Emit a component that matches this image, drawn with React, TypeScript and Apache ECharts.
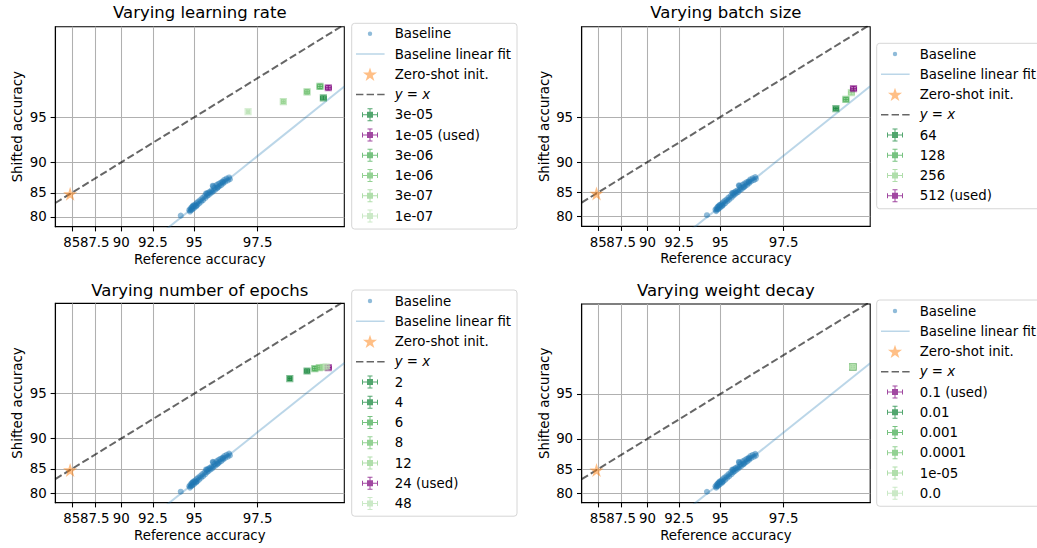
import React, { useEffect, useRef } from "react";
import * as echarts from "echarts";

const FONT = '"DejaVu Sans", "Noto Sans", sans-serif';

// ---------- data ----------
const xTicks = [85, 87.5, 90, 92.5, 95, 97.5];
const xTickLabels = ["85", "87.5", "90", "92.5", "95", "97.5"];
const yTicks = [80, 85, 90, 95];
const yTickLabels = ["80", "85", "90", "95"];
const xRange = [83.0, 99.16];
const yRange = [77.74, 99.12];

const titles = [
  "Varying learning rate",
  "Varying batch size",
  "Varying number of epochs",
  "Varying weight decay",
];

const baselineRef = [
  94.27, 94.74, 94.78, 94.8, 94.83, 94.86, 94.88, 94.9, 94.93, 94.96, 95.0, 95.04, 95.08,
  95.12, 95.16, 95.2, 95.25, 95.3, 95.35, 95.4, 95.44, 95.5, 95.55, 95.6, 95.63,
  95.67, 95.7, 95.74, 95.78, 95.82, 95.86, 95.9, 95.92, 95.95, 96.0, 96.04, 96.08,
  96.12, 96.16, 96.2, 96.24, 96.28, 96.32, 96.36, 96.4, 96.45, 96.5, 96.55, 96.58,
  94.95, 95.1, 95.58, 95.88, 96.1, 96.3,
];
const baselineShift = [
  80.3, 81.5, 81.2, 81.8, 81.5, 82.1, 81.6, 82.2, 81.8, 82.4, 82.0, 82.7, 82.4,
  83.0, 82.6, 83.3, 82.9, 83.6, 83.3, 84.0, 83.6, 84.3, 84.0, 84.8, 84.4,
  85.0, 84.6, 85.2, 84.9, 85.4, 85.1, 86.2, 85.4, 85.9, 85.6, 86.4, 85.9,
  86.6, 86.2, 86.8, 86.4, 87.0, 86.7, 87.3, 87.0, 87.5, 87.2, 87.7, 87.4,
  82.5, 82.3, 84.9, 86.3, 86.0, 86.9,
];
const zeroShotRef = 84.8;
const zeroShotShift = 84.8;
// linear fit in probit space: probit(shift) = slope * probit(ref) + intercept
const fitSlope = 1.299;
const fitIntercept = -1.213;

const lrNames = ["3e-05", "1e-05 (used)", "3e-06", "1e-06", "3e-07", "1e-07"];
const lrRef = [98.89, 98.96, 98.84, 98.63, 98.16, 97.21];
const lrShift = [96.41, 97.01, 97.08, 96.78, 96.17, 95.45];

const bsNames = ["64", "128", "256", "512 (used)"];
const bsRef = [98.68, 98.84, 98.92, 98.95];
const bsShift = [95.66, 96.3, 96.72, 96.95];

const epNames = ["2", "4", "6", "8", "12", "24 (used)", "48"];
const epRef = [98.3, 98.63, 98.76, 98.83, 98.89, 98.96, 98.93];
const epShift = [96.13, 96.62, 96.76, 96.82, 96.84, 96.82, 96.86];

const wdNames = ["0.1 (used)", "0.01", "0.001", "0.0001", "1e-05", "0.0"];
const wdRef = [98.94, 98.94, 98.94, 98.94, 98.94, 98.94];
const wdShift = [96.89, 96.89, 96.89, 96.89, 96.89, 96.89];

const xErr = 0.04;
const yErr = 0.12;

// ---------- styles ----------
const PURPLE = "#820b82";
const G1 = "#18883d";
const G2 = "#4aae56";
const G3 = "#6fc16f";
const G4 = "#95d38f";
const G5 = "#bae2b4";
const lrColors = [G1, PURPLE, G2, G3, G4, G5];
const bsColors = [G1, G2, G4, PURPLE];
const epColors = [G1, G1, G2, G3, G4, PURPLE, G5];
const wdColors = [PURPLE, G1, G2, G3, G4, G5];

const grids = [
  { left: 55.3, top: 26.7, width: 289, height: 200 },
  { left: 581.7, top: 26.7, width: 288.5, height: 199.5 },
  { left: 55.3, top: 303.4, width: 289, height: 199.3 },
  { left: 581.7, top: 304, width: 288.5, height: 198.7 },
];
const titlePos = [
  { left: 199.8, top: 3.5 },
  { left: 725.9, top: 3.5 },
  { left: 199.8, top: 281.5 },
  { left: 725.9, top: 281.5 },
];
const legendPos = [
  { left: 351.7, top: 23.3, padding: [3.5, 6, 6, 4] },
  { left: 876.7, top: 43.3, padding: [3.7, 6, 6, 4] },
  { left: 351.7, top: 290, padding: [4, 6, 5.7, 4] },
  { left: 876.7, top: 300, padding: [4, 6, 6, 4] },
];

// ---------- probit transform ----------
function probit(p: number): number {
  const a = [-3.969683028665376e1, 2.209460984245205e2, -2.759285104469687e2, 1.38357751867269e2, -3.066479806614716e1, 2.506628277459239];
  const b = [-5.447609879822406e1, 1.615858368580409e2, -1.556989798598866e2, 6.680131188771972e1, -1.328068155288572e1];
  const c = [-7.784894002430293e-3, -3.223964580411365e-1, -2.400758277161838, -2.549732539343734, 4.374664141464968, 2.938163982698783];
  const d = [7.784695709041462e-3, 3.224671290700398e-1, 2.445134137142996, 3.754408661907416];
  const pl = 0.02425;
  if (p < pl) {
    const q = Math.sqrt(-2 * Math.log(p));
    return (((((c[0] * q + c[1]) * q + c[2]) * q + c[3]) * q + c[4]) * q + c[5]) / ((((d[0] * q + d[1]) * q + d[2]) * q + d[3]) * q + 1);
  }
  if (p <= 1 - pl) {
    const q = p - 0.5;
    const r = q * q;
    return ((((((a[0] * r + a[1]) * r + a[2]) * r + a[3]) * r + a[4]) * r + a[5]) * q) / (((((b[0] * r + b[1]) * r + b[2]) * r + b[3]) * r + b[4]) * r + 1);
  }
  const q = Math.sqrt(-2 * Math.log(1 - p));
  return -(((((c[0] * q + c[1]) * q + c[2]) * q + c[3]) * q + c[4]) * q + c[5]) / ((((d[0] * q + d[1]) * q + d[2]) * q + d[3]) * q + 1);
}
const T = (pct: number) => probit(pct / 100);

function labelFor(v: number, ticks: number[], labels: string[]) {
  for (let k = 0; k < ticks.length; k++) {
    if (Math.abs(T(ticks[k]) - v) < 1e-6) return labels[k];
  }
  return "";
}

// ---------- legend icons (34 x 14 box) ----------
const ANCH = "M0 0h0.05v0.05h-0.05z M33.95 13.95h0.05v0.05h-0.05z ";
const R = (x: number, y: number, w: number, h: number) => `M${x} ${y}h${w}v${h}h${-w}z `;
const CX = 14.3;
const CY = 7;
const ICON_DOT = `path://${ANCH}M${CX + 2.2} ${CY}A2.2 2.2 0 1 1 ${CX - 2.2} ${CY}A2.2 2.2 0 1 1 ${CX + 2.2} ${CY}z`;
const ICON_LINE = `path://${ANCH}${R(0.3, 6.2, 28.6, 1.6)}`;
const ICON_DASH = `path://${ANCH}${R(0.3, 6.2, 7.4, 1.6)}${R(10.9, 6.2, 7.4, 1.6)}${R(21.5, 6.2, 7.4, 1.6)}`;
const starPts = [
  [0, -1], [0.2245, -0.309], [0.951, -0.309], [0.363, 0.118], [0.588, 0.809],
  [0, 0.382], [-0.588, 0.809], [-0.363, 0.118], [-0.951, -0.309], [-0.2245, -0.309],
];
const starPath = (s: number, ox: number, oy: number) =>
  starPts.map((p, k) => `${k === 0 ? "M" : "L"}${(ox + p[0] * s).toFixed(3)} ${(oy + p[1] * s).toFixed(3)}`).join(" ") + "z";
const ICON_STAR = `path://${ANCH}${starPath(7.4, CX, 7.6)}`;
const ICON_ERR =
  `path://${ANCH}` +
  R(CX - 0.5, 0.5, 1, 13) +
  R(CX - 2.5, 0.5, 5, 1) +
  R(CX - 2.5, 12.5, 5, 1) +
  R(CX - 8, 6.5, 16, 1) +
  R(CX - 8, 4.5, 1, 5) +
  R(CX + 7, 4.5, 1, 5) +
  R(CX - 3, 4, 6, 6);
const STAR_SYMBOL = "path://" + starPath(1, 0, 0);

const panels = [
  { names: lrNames, ref: lrRef, shift: lrShift, colors: lrColors },
  { names: bsNames, ref: bsRef, shift: bsShift, colors: bsColors },
  { names: epNames, ref: epRef, shift: epShift, colors: epColors },
  { names: wdNames, ref: wdRef, shift: wdShift, colors: wdColors },
];

function buildOption() {
  const xAxis: any[] = [];
  const extraX: any[] = [];
  const yAxis: any[] = [];
  const series: any[] = [];
  const legend: any[] = [];
  const labelStyle = { fontSize: 13.33, color: "#000", fontFamily: FONT };
  // first label is drawn by a second (line-less) axis so both crowded labels show
  const firstX = [xTicks[0]];
  const restX = xTicks.slice(1);

  panels.forEach((pnl, i) => {
    xAxis.push({
      type: "value",
      gridIndex: i,
      position: "bottom",
      min: T(xRange[0]),
      max: T(xRange[1]),
      name: "Reference accuracy",
      nameLocation: "middle",
      nameGap: 26,
      nameTextStyle: labelStyle,
      axisLine: { show: true, onZero: false, lineStyle: { color: "#000", width: 1.07 } },
      axisTick: { show: true, inside: false, length: 4.7, lineStyle: { color: "#000", width: 1.07 }, customValues: xTicks.map(T) },
      axisLabel: {
        ...labelStyle,
        margin: 9.5,
        hideOverlap: false,
        customValues: restX.map(T),
        formatter: (v: number) => labelFor(v, xTicks, xTickLabels),
      },
      splitLine: { show: true, lineStyle: { color: "#b0b0b0", width: 1.07 } },
    });
    extraX.push({
      type: "value",
      gridIndex: i,
      position: "bottom",
      offset: 0,
      min: T(xRange[0]),
      max: T(xRange[1]),
      axisLine: { show: false, onZero: false },
      axisTick: { show: false },
      splitLine: { show: false },
      axisLabel: {
        ...labelStyle,
        margin: 9.5,
        hideOverlap: false,
        customValues: firstX.map(T),
        formatter: (v: number) => labelFor(v, xTicks, xTickLabels),
      },
    });
    yAxis.push({
      type: "value",
      gridIndex: i,
      min: T(yRange[0]),
      max: T(yRange[1]),
      name: "Shifted accuracy",
      nameLocation: "middle",
      nameGap: 31,
      nameTextStyle: labelStyle,
      axisLine: { show: true, onZero: false, lineStyle: { color: "#000", width: 1.07 } },
      axisTick: { show: true, inside: false, length: 4.7, lineStyle: { color: "#000", width: 1.07 }, customValues: yTicks.map(T) },
      axisLabel: {
        ...labelStyle,
        margin: 8.6,
        hideOverlap: false,
        customValues: yTicks.map(T),
        formatter: (v: number) => labelFor(v, yTicks, yTickLabels),
      },
      splitLine: { show: true, lineStyle: { color: "#b0b0b0", width: 1.07 } },
    });

    const x0 = T(xRange[0]);
    const x1 = T(xRange[1]);
    series.push({
      type: "line",
      name: "Baseline linear fit",
      xAxisIndex: i,
      yAxisIndex: i,
      data: [
        [x0, fitSlope * x0 + fitIntercept],
        [x1, fitSlope * x1 + fitIntercept],
      ],
      showSymbol: false,
      symbol: "none",
      clip: true,
      lineStyle: { color: "#1f77b4", opacity: 0.3, width: 2 },
      itemStyle: { color: "#1f77b4" },
      z: 2,
    });
    series.push({
      type: "scatter",
      name: "Baseline",
      xAxisIndex: i,
      yAxisIndex: i,
      data: baselineRef.map((r, k) => [T(r), T(baselineShift[k])]),
      symbol: "circle",
      symbolSize: 6,
      itemStyle: { color: "#1f77b4", opacity: 0.5 },
      z: 2,
    });
    series.push({
      type: "scatter",
      name: "Zero-shot init.",
      xAxisIndex: i,
      yAxisIndex: i,
      data: [[T(zeroShotRef), T(zeroShotShift)]],
      symbol: STAR_SYMBOL,
      symbolSize: 14,
      itemStyle: { color: "#ff7f0e", opacity: 0.5 },
      z: 2,
    });
    series.push({
      type: "line",
      name: "y = x",
      xAxisIndex: i,
      yAxisIndex: i,
      data: [
        [T(xRange[0]), T(xRange[0])],
        [T(xRange[1]), T(xRange[1])],
      ],
      showSymbol: false,
      symbol: "none",
      clip: true,
      lineStyle: { color: "#000", opacity: 0.6, width: 2, type: [7.4, 3.2] },
      itemStyle: { color: "#666" },
      z: 2,
    });

    pnl.names.forEach((nm, k) => {
      const col = pnl.colors[k];
      const r = pnl.ref[k];
      const s = pnl.shift[k];
      series.push({
        type: "custom",
        name: nm,
        xAxisIndex: i,
        yAxisIndex: i,
        clip: true,
        z: 3,
        itemStyle: { color: col },
        encode: { x: 0, y: 1 },
        data: [[T(r), T(s), T(r - xErr), T(r + xErr), T(s - yErr), T(s + yErr)]],
        renderItem: (params: any, api: any) => {
          const c = api.coord([api.value(0), api.value(1)]);
          const l = api.coord([api.value(2), api.value(1)]);
          const rr = api.coord([api.value(3), api.value(1)]);
          const b = api.coord([api.value(0), api.value(4)]);
          const t = api.coord([api.value(0), api.value(5)]);
          const sz = 7.2;
          const cap = 2.2;
          const ls = { stroke: col, lineWidth: 1.1, opacity: 0.8 };
          return {
            type: "group",
            children: [
              { type: "rect", shape: { x: c[0] - sz / 2, y: c[1] - sz / 2, width: sz, height: sz }, style: { fill: col, opacity: 0.55 } },
              { type: "line", shape: { x1: l[0], y1: c[1], x2: rr[0], y2: c[1] }, style: ls },
              { type: "line", shape: { x1: l[0], y1: c[1] - cap, x2: l[0], y2: c[1] + cap }, style: ls },
              { type: "line", shape: { x1: rr[0], y1: c[1] - cap, x2: rr[0], y2: c[1] + cap }, style: ls },
              { type: "line", shape: { x1: c[0], y1: b[1], x2: c[0], y2: t[1] }, style: ls },
              { type: "line", shape: { x1: c[0] - cap, y1: b[1], x2: c[0] + cap, y2: b[1] }, style: ls },
              { type: "line", shape: { x1: c[0] - cap, y1: t[1], x2: c[0] + cap, y2: t[1] }, style: ls },
            ],
          };
        },
      });
    });

    const lp = legendPos[i];
    legend.push({
      orient: "vertical",
      left: lp.left,
      top: lp.top,
      padding: lp.padding,
      itemWidth: 34,
      itemHeight: 14,
      itemGap: 6.25,
      backgroundColor: "#ffffff",
      borderColor: "#d6d6d6",
      borderWidth: 1,
      borderRadius: 3,
      selectedMode: false,
      itemStyle: { borderWidth: 0 },
      lineStyle: { width: 0 },
      textStyle: {
        fontSize: 13.33,
        color: "#000",
        fontFamily: FONT,
        rich: { i: { fontStyle: "italic", fontSize: 13.33, color: "#000", fontFamily: FONT } },
      },
      formatter: (n: string) => (n === "y = x" ? "{i|y} = {i|x}" : n),
      data: [
        { name: "Baseline", icon: ICON_DOT, itemStyle: { color: "#1f77b4", opacity: 0.5, borderWidth: 0 } },
        { name: "Baseline linear fit", icon: ICON_LINE, itemStyle: { color: "#1f77b4", opacity: 0.3, borderWidth: 0 } },
        { name: "Zero-shot init.", icon: ICON_STAR, itemStyle: { color: "#ff7f0e", opacity: 0.5, borderWidth: 0 } },
        { name: "y = x", icon: ICON_DASH, itemStyle: { color: "#000", opacity: 0.6, borderWidth: 0 } },
        ...pnl.names.map((nm, k) => ({
          name: nm,
          icon: ICON_ERR,
          itemStyle: { color: pnl.colors[k], opacity: 0.75, borderWidth: 0 },
        })),
      ],
    });
  });

  return {
    animation: false,
    backgroundColor: "#ffffff",
    textStyle: { fontFamily: FONT },
    title: titles.map((t, i) => ({
      text: t,
      left: titlePos[i].left,
      top: titlePos[i].top,
      textAlign: "center",
      padding: 0,
      textStyle: { fontSize: 16.5, fontWeight: "normal", color: "#000", fontFamily: FONT },
    })),
    grid: grids.map((g) => ({ ...g, show: true, borderColor: "#000", borderWidth: 1.07, backgroundColor: "transparent" })),
    xAxis: [...xAxis, ...extraX],
    yAxis,
    legend,
    series,
  };
}

export default function App() {
  const ref = useRef<HTMLDivElement>(null);
  useEffect(() => {
    if (!ref.current) return;
    const chart = echarts.init(ref.current, undefined, { renderer: "svg" });
    chart.setOption(buildOption() as any);
    return () => chart.dispose();
  }, []);
  return (
    <div
      ref={ref}
      style={{ position: "fixed", left: 0, top: 0, width: 1037, height: 548, background: "#fff" }}
    />
  );
}
